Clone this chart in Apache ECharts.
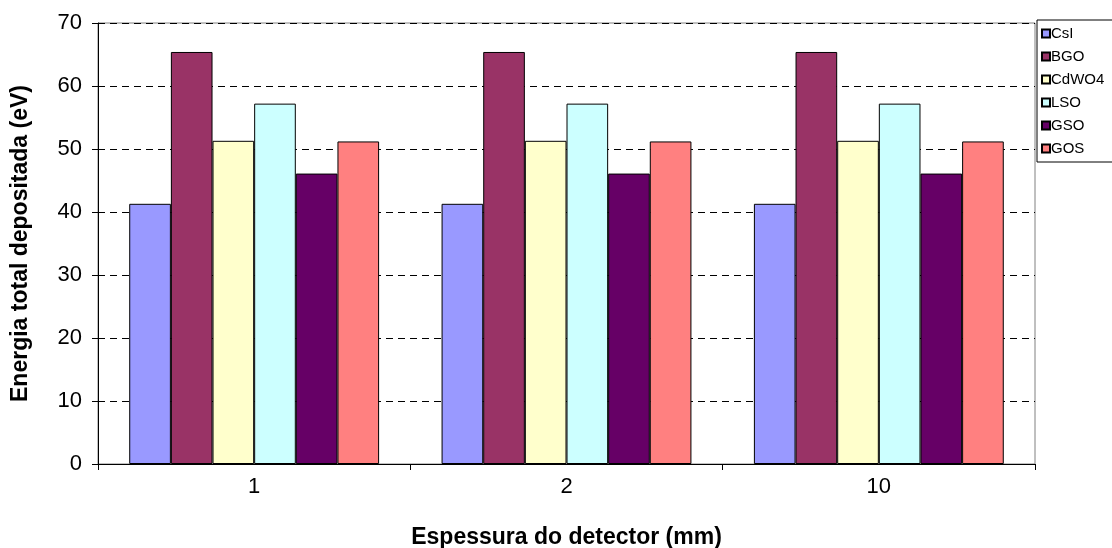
<!DOCTYPE html>
<html>
<head>
<meta charset="utf-8">
<script src="https://cdn.jsdelivr.net/npm/echarts@6/dist/echarts.min.js"></script>
<style>html,body{margin:0;padding:0;background:#fff}#c{width:1112px;height:548px}</style>
</head>
<body>
<div id="c"></div>
<script>
var categories = ['1', '2', '10'];
var seriesNames = ['CsI', 'BGO', 'CdWO4', 'LSO', 'GSO', 'GOS'];
var seriesColors = ['#9999FF', '#993366', '#FFFFCC', '#CCFFFF', '#660066', '#FF8080'];
var CsI = [41.3, 41.3, 41.3];
var BGO = [65.4, 65.4, 65.4];
var CdWO4 = [51.3, 51.3, 51.3];
var LSO = [57.2, 57.2, 57.2];
var GSO = [46.1, 46.1, 46.1];
var GOS = [51.2, 51.2, 51.2];
var seriesValues = [CsI, BGO, CdWO4, LSO, GSO, GOS];

var font = 'Liberation Sans, Arial, sans-serif';
var chart = echarts.init(document.getElementById('c'), null, {renderer: 'canvas'});
chart.setOption({
  animation: false,
  backgroundColor: '#fff',
  textStyle: {fontFamily: font},
  grid: {left: 98, right: 77, top: 23, bottom: 84, show: true, borderColor: '#808080', borderWidth: 1,
         backgroundColor: 'transparent', containLabel: false, outerBoundsMode: 'none'},
  legend: {
    orient: 'vertical', left: 1037, top: 20,
    itemWidth: 8, itemHeight: 8, itemGap: 8,
    padding: [6, 40, 6, 4],
    borderColor: '#000', borderWidth: 1,
    icon: 'rect',
    textStyle: {fontFamily: font, fontSize: 15, color: '#000', padding: [0, 0, 0, -4], lineHeight: 15},
    data: seriesNames
  },
  xAxis: {
    type: 'category', data: categories,
    axisLine: {lineStyle: {color: '#000', width: 1}},
    axisTick: {show: true, length: 6, lineStyle: {color: '#000'}},
    axisLabel: {fontSize: 22, color: '#000', margin: 12, fontFamily: font},
    name: 'Espessura do detector (mm)', nameLocation: 'middle', nameGap: 62,
    nameTextStyle: {fontSize: 23, fontWeight: 'bold', color: '#000', fontFamily: font}
  },
  yAxis: {
    type: 'value', min: 0, max: 70, interval: 10,
    axisLine: {show: true, lineStyle: {color: '#000', width: 1}},
    axisTick: {show: true, length: 6, lineStyle: {color: '#000'}},
    axisLabel: {fontSize: 22, color: '#000', margin: 16, fontFamily: font},
    splitLine: {show: true, lineStyle: {color: '#000', type: [7, 5], width: 1}},
    name: 'Energia total depositada (eV)', nameLocation: 'middle', nameGap: 66,
    nameTextStyle: {fontSize: 23, fontWeight: 'bold', color: '#000', fontFamily: font}
  },
  series: seriesNames.map(function (n, i) {
    return {
      name: n, type: 'bar', data: seriesValues[i],
      barGap: '0%', barCategoryGap: '20%',
      itemStyle: {color: seriesColors[i], borderColor: '#000', borderWidth: 1}
    };
  })
});
</script>
</body>
</html>
